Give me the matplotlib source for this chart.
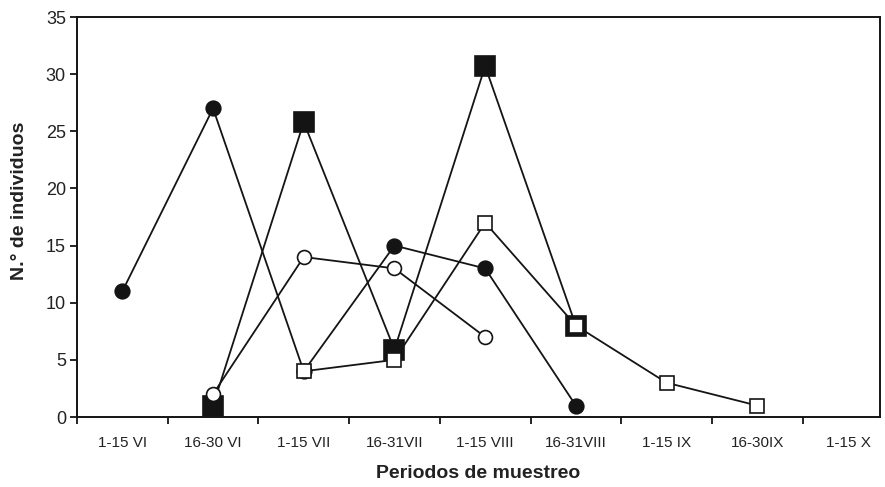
import numpy as np
import matplotlib
matplotlib.use("Agg")
import matplotlib.pyplot as plt

categories = ["1-15 VI", "16-30 VI", "1-15 VII", "16-31VII", "1-15 VIII",
              "16-31VIII", "1-15 IX", "16-30IX", "1-15 X"]
nan = np.nan
filled_circle = [11, 27, 4, 15, 13, 1, nan, nan, nan]
open_circle = [nan, 2, 14, 13, 7, nan, nan, nan, nan]
filled_square = [nan, 1, 25.8, 5.9, 30.7, 8, nan, nan, nan]
open_square = [nan, nan, 4, 5, 17, 8, 3, 1, nan]
y_ticks = [0, 5, 10, 15, 20, 25, 30, 35]

plt.rcParams['font.family'] = ['Liberation Sans', 'DejaVu Sans']
fig = plt.figure(figsize=(8.85, 4.87), dpi=100)
ax = fig.add_axes([77/885, 1-417/487, (880-77)/885, 400/487])

x = np.arange(len(categories))
col = '#141414'
lw = 1.3

def plot_series(vals, marker, ms, face, z):
    v = np.array(vals, dtype=float)
    m = ~np.isnan(v)
    ax.plot(x[m], v[m], color=col, lw=lw, marker=marker, ms=ms,
            mfc=face, mec=col, mew=1.2, zorder=z, clip_on=False)

plot_series(filled_square, 's', 14, col, 3)
plot_series(filled_circle, 'o', 10.5, col, 4)
plot_series(open_circle, 'o', 10, 'white', 5)
plot_series(open_square, 's', 10.5, 'white', 6)

ax.set_xlim(-0.5, (880-77)/90.7 - 0.5)
ax.set_ylim(0, 35)
ax.set_yticks(y_ticks)
ax.set_xticks(np.arange(len(categories)) - 0.5, minor=False)
ax.set_xticklabels([])
ax.set_xticks(x, minor=True)
ax.set_xticklabels(categories, minor=True, fontsize=11, color='#222222')
ax.tick_params(axis='x', which='minor', length=0, pad=14)
ax.tick_params(axis='x', which='major', length=5, width=1.3, direction='out', color=col)
ax.tick_params(axis='y', length=5, width=1.3, direction='out', color=col,
               labelsize=13, labelcolor='#222222', pad=3)
for s in ax.spines.values():
    s.set_linewidth(1.4)
    s.set_color(col)

ax.set_ylabel("N.° de individuos", fontsize=14, fontweight='bold', color='#222222',
              va='center')
ax.yaxis.set_label_coords(-0.071, 0.54)
ax.set_xlabel("Periodos de muestreo", fontsize=14, fontweight='bold', color='#222222')
ax.xaxis.set_label_coords(0.5, -(473-417)/400)
ax.xaxis.label.set_verticalalignment('center')

fig.savefig("out.png", dpi=100)
